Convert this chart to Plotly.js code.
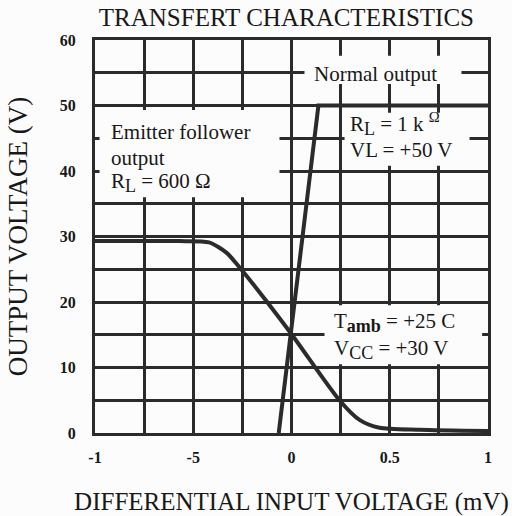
<!DOCTYPE html>
<html>
<head>
<meta charset="utf-8">
<script src="https://cdn.plot.ly/plotly-3.0.1.min.js"></script>
<style>html,body{margin:0;padding:0;background:#fcfcfc;}#chart{width:512px;height:516px;}</style>
</head>
<body>
<div id="chart"></div>
<script>
// Data
const normalX = [-0.065, 0.137, 1.0];
const normalY = [0, 50, 50];
const emitterX = [-1.0, -0.57, -0.42, -0.33, -0.265, -0.01, 0.244, 0.346, 0.448, 0.65, 1.0];
const emitterY = [29.3, 29.3, 29.1, 27.5, 25.3, 15.5, 5.0, 2.0, 0.8, 0.5, 0.3];
const xTickVals = [-1, -0.5, 0, 0.5, 1];
const xTickText = ["-1", "-5", "0", "0.5", "1"];
const yTickVals = [0, 10, 20, 30, 40, 50, 60];
const yTickText = ["0", "10", "20", "30", "40", "50", "60"];

const ink = '#2b2b2b';
const textInk = '#181818';
const serif = 'Liberation Serif, Times New Roman, serif';

const traces = [
  {x: normalX, y: normalY, mode: 'lines', line: {color: ink, width: 4}, hoverinfo: 'skip', showlegend: false},
  {x: emitterX, y: emitterY, mode: 'lines', line: {color: ink, width: 4, shape: 'spline', smoothing: 0.7}, hoverinfo: 'skip', showlegend: false}
];

const boxes = [
  [-0.977, -0.061, 36.0, 49.3],
  [0.066, 0.865, 53.3, 57.6],
  [0.27, 0.906, 40.8, 48.9],
  [0.168, 0.97, 10.5, 19.5]
];
const shapes = boxes.map(b => ({type: 'rect', xref: 'x', yref: 'y', x0: b[0], x1: b[1], y0: b[2], y1: b[3],
  fillcolor: '#fcfcfc', line: {width: 0}, layer: 'between'}));

const af = {family: serif, size: 21, color: textInk};
function ann(text, x, y, xanchor) {
  return {text: text, x: x, y: y, xref: 'x', yref: 'y', xanchor: xanchor || 'left', yanchor: 'middle', showarrow: false, font: af};
}
function sub(t) { return '<sub><span style="font-size:18px">' + t + '</span></sub>'; }
const annotations = [
  ann('Emitter follower', -0.931, 45.95),
  ann('output', -0.931, 41.98),
  ann('R' + sub('L') + ' = 600 Ω', -0.931, 38.3),
  ann('Normal output', 0.425, 54.8, 'center'),
  ann('R' + sub('L') + ' = 1 k <sup>Ω</sup>', 0.29, 47.2),
  ann('VL = +50 V', 0.29, 43.2),
  ann('T' + sub('<b>amb</b>') + ' = +25 C', 0.204, 16.8),
  ann('V' + sub('CC') + ' = +30 V', 0.204, 12.7)
];

const axisCommon = {
  showgrid: true, gridcolor: ink, gridwidth: 3,
  showline: true, linecolor: ink, linewidth: 3, mirror: true,
  zeroline: false, ticks: '', fixedrange: true,
  tickfont: {family: serif, size: 16, color: textInk, weight: 'bold'}
};

const layout = {
  width: 512, height: 516,
  margin: {l: 95, r: 24, t: 40, b: 83},
  paper_bgcolor: '#fcfcfc', plot_bgcolor: '#fcfcfc',
  title: {text: 'TRANSFERT CHARACTERISTICS', x: 0.487, xref: 'paper', xanchor: 'center', y: 0.967, yref: 'container', yanchor: 'middle',
    font: {family: serif, size: 25, color: textInk}},
  xaxis: Object.assign({}, axisCommon, {range: [-1, 1], tickmode: 'array', tickvals: xTickVals, ticktext: xTickText,
    ticklabelstandoff: 8,
    minor: {dtick: 0.25, tick0: 0, showgrid: true, gridcolor: ink, gridwidth: 3, ticks: ''},
    title: {text: 'DIFFERENTIAL INPUT VOLTAGE (mV)', standoff: 30, font: {family: serif, size: 25, color: textInk}}}),
  yaxis: Object.assign({}, axisCommon, {range: [0, 60], tickmode: 'array', tickvals: yTickVals, ticktext: yTickText,
    ticklabelstandoff: 13,
    minor: {dtick: 5, tick0: 0, showgrid: true, gridcolor: ink, gridwidth: 3, ticks: ''},
    title: {text: 'OUTPUT VOLTAGE (V)', standoff: 25, font: {family: serif, size: 27, color: textInk}}}),
  shapes: shapes,
  annotations: annotations
};

Plotly.newPlot('chart', traces, layout, {displayModeBar: false, staticPlot: true});
</script>
</body>
</html>
